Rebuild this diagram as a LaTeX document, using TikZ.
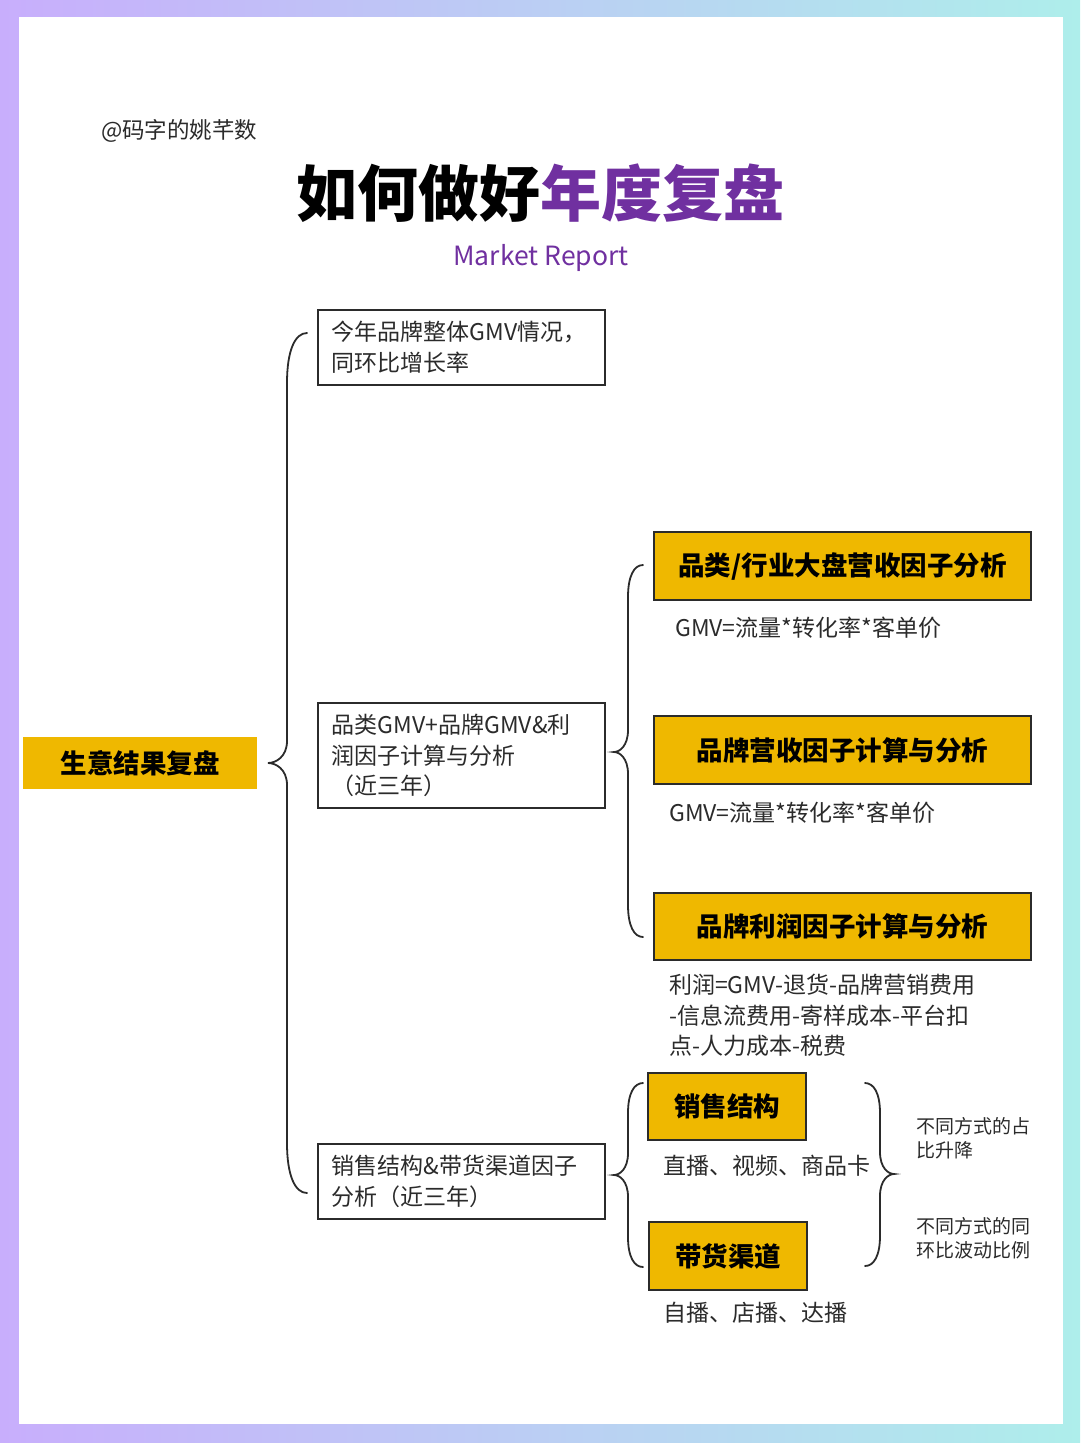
\documentclass[tikz,border=0pt]{standalone}
\usepackage{fontspec}
\setmainfont{Noto Sans CJK SC}
\definecolor{bgL}{HTML}{C8AEFC}
\definecolor{bgR}{HTML}{AEEEEB}
\definecolor{ybox}{HTML}{EFB800}
\definecolor{ink}{HTML}{2B2B2B}
\definecolor{ttlpurple}{HTML}{7030A0}
\newcommand\mybrc[7]{%
 \draw[bracestyle] (#1,#2) .. controls (#1*0.4+#3*0.6,#2) and (#3,#2+#7*0.35) .. (#3,#2+#7)
 -- (#3,#5-22) .. controls (#3,#5-6) and (#3*0.4+#4*0.6,#5) .. (#4,#5)
 .. controls (#3*0.4+#4*0.6,#5) and (#3,#5+6) .. (#3,#5+22)
 -- (#3,#6-#7) .. controls (#3,#6-#7*0.35) and (#1*0.4+#3*0.6,#6) .. (#1,#6);}
\begin{document}
\begin{tikzpicture}[x=1pt,y=-1pt,
  bracestyle/.style={draw=ink, line width=1.8pt, line cap=round},
  plainbox/.style={draw=ink, line width=1.8pt, fill=white, anchor=north west,
    inner xsep=14pt, inner ysep=0pt, text width=259pt, align=left, minimum height=75pt,
    text=ink, font=\fontsize{23}{30.5}\selectfont},
  ybox/.style={draw=ink, line width=1.8pt, fill=ybox, minimum height=68pt, inner sep=0pt,
    text=black, font=\bfseries\fontsize{26.5}{26.5}\selectfont},
  note/.style={anchor=west, text=ink, align=left, inner sep=0pt,
    font=\fontsize{23}{30.5}\selectfont},
  smallnote/.style={anchor=west, text=ink, align=left, inner sep=0pt,
    font=\fontsize{19}{24.5}\selectfont}]
% background
\shade[left color=bgL, right color=bgR] (0,0) rectangle (1080,1443);
\fill[white] (19,17) rectangle (1063,1424);
\useasboundingbox (0,0) rectangle (1080,1443);

% header
\node[anchor=west, inner sep=0pt, text=ink, font=\fontsize{22.5}{22.5}\selectfont] (handle) at (101,131) {@码字的姚芊数};
\node[inner sep=0pt, font=\bfseries\fontsize{61}{61}\selectfont] (title) at (540,193) {如何做好\textcolor{ttlpurple}{年度复盘}};
\node[inner sep=0pt, text=ttlpurple, font=\fontsize{26.5}{26.5}\selectfont] (sub) at (541,258) {Market Report};

% root
\node[fill=ybox, minimum width=234pt, minimum height=52pt, inner sep=0pt,
  font=\bfseries\fontsize{26.5}{26.5}\selectfont] (root) at (140,763) {生意结果复盘};

% level-1 boxes
\node[plainbox] (b1) at (317,309) {今年品牌整体GMV情况，\\同环比增长率};
\node[plainbox, minimum height=105pt] (b2) at (317,702) {品类GMV+品牌GMV\&利\\润因子计算与分析\\（近三年）};
\node[plainbox] (b3) at (317,1143) {销售结构\&带货渠道因子\\分析（近三年）};

% level-2 yellow boxes
\node[ybox, minimum width=377pt] (ya) at (842.5,566) {品类/行业大盘营收因子分析};
\node[note] (na) at (675,628) {GMV=流量*转化率*客单价};
\node[ybox, minimum width=377pt] (yb) at (842.5,750) {品牌营收因子计算与分析};
\node[note] (nb) at (669,813) {GMV=流量*转化率*客单价};
\node[ybox, minimum width=377pt, minimum height=67pt] (yc) at (842.5,926.5) {品牌利润因子计算与分析};
\node[note] (nc) at (669,1015.5) {利润=GMV-退货-品牌营销费用\\-信息流费用-寄样成本-平台扣\\点-人力成本-税费};

\node[ybox, minimum width=158pt, minimum height=67pt] (yd) at (727,1106.5) {销售结构};
\node[note] (nd) at (663,1166) {直播、视频、商品卡};
\node[ybox, minimum width=158pt, minimum height=68pt] (ye) at (728,1256) {带货渠道};
\node[note] (ne) at (663,1313) {自播、店播、达播};

\node[smallnote] (r1) at (916,1138) {不同方式的占\\比升降};
\node[smallnote] (r2) at (916,1238) {不同方式的同\\环比波动比例};

% braces
\mybrc{307}{333}{287}{268}{763}{1193}{50}
\mybrc{643}{565}{628}{614}{752}{937}{32}
\mybrc{643}{1083}{628}{614}{1175}{1267}{30}
\mybrc{865}{1083}{880}{894}{1174}{1266}{30}
\end{tikzpicture}
\end{document}
